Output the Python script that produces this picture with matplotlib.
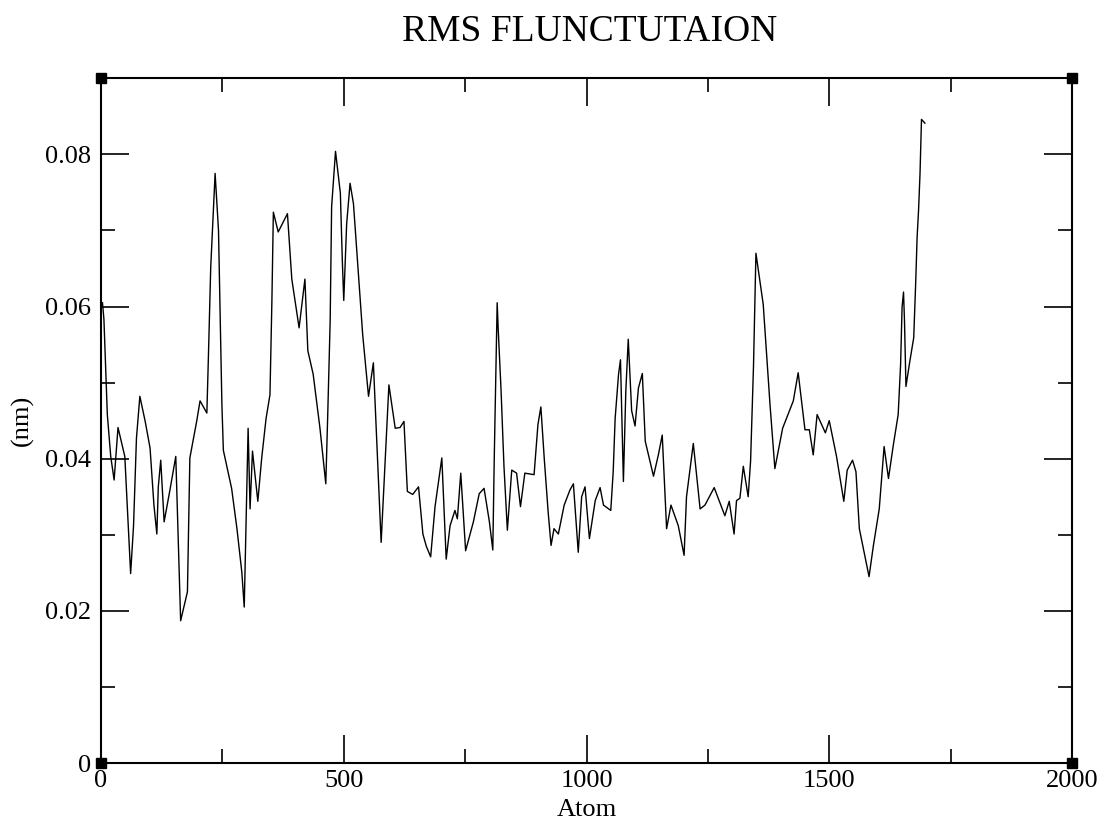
import matplotlib
matplotlib.use('Agg')
import matplotlib.pyplot as plt
from matplotlib.ticker import MultipleLocator, FuncFormatter

# values
atom = [3, 6, 13, 20, 27, 35, 49, 61, 67, 73, 80, 91, 101, 109, 115, 118, 123, 130,
        142, 154, 159, 164, 178, 183, 197, 204, 218, 221, 226, 235, 242, 245, 249, 252,
        269, 280, 290, 295, 299, 303, 307, 312, 323, 331, 340, 348, 352, 355, 365, 384,
        393, 408, 420, 426, 437, 451, 463, 467, 472, 475, 483, 493, 497, 500, 506, 513,
        520, 539, 551, 561, 577, 593, 606, 616, 624, 631, 642, 654, 663, 670, 679, 688,
        702, 711, 719, 729, 734, 741, 751, 767, 779, 789, 800, 807, 810, 816, 818, 824,
        830, 837, 846, 856, 864, 873, 892, 900, 906, 913, 921, 927, 933, 942, 954, 966,
        973, 983, 990, 997, 1006, 1018, 1028, 1035, 1050, 1055, 1059, 1066, 1070, 1076,
        1081, 1086, 1093, 1100, 1107, 1115, 1121, 1138, 1148, 1156, 1165, 1174, 1189,
        1201, 1206, 1220, 1234, 1244, 1263, 1285, 1294, 1304, 1309, 1316, 1323, 1333,
        1338, 1344, 1349, 1364, 1378, 1388, 1404, 1426, 1436, 1450, 1459, 1467, 1475,
        1492, 1500, 1515, 1530, 1537, 1548, 1555, 1562, 1573, 1582, 1591, 1603, 1613,
        1622, 1632, 1642, 1647, 1650, 1653, 1655, 1658, 1666, 1674, 1678, 1681, 1684,
        1687, 1690, 1697]
rmsf = [0.0605, 0.0583, 0.0458, 0.0403, 0.0372, 0.0441, 0.0403, 0.0249, 0.0312, 0.0427,
        0.0482, 0.0449, 0.0414, 0.0339, 0.0301, 0.0363, 0.0398, 0.0317, 0.0359, 0.0403,
        0.0295, 0.0187, 0.0225, 0.0401, 0.0449, 0.0476, 0.0460, 0.0529, 0.0652, 0.0775,
        0.0700, 0.0599, 0.0471, 0.0411, 0.0361, 0.0308, 0.0251, 0.0205, 0.0324, 0.0440,
        0.0334, 0.0410, 0.0344, 0.0401, 0.0453, 0.0484, 0.0608, 0.0724, 0.0698, 0.0722,
        0.0636, 0.0572, 0.0636, 0.0542, 0.0511, 0.0440, 0.0367, 0.0458, 0.0581, 0.0731,
        0.0804, 0.0749, 0.0661, 0.0608, 0.0709, 0.0762, 0.0735, 0.0563, 0.0482, 0.0526,
        0.0290, 0.0497, 0.0440, 0.0441, 0.0449, 0.0357, 0.0353, 0.0363, 0.0301, 0.0285,
        0.0271, 0.0337, 0.0401, 0.0268, 0.0312, 0.0332, 0.0321, 0.0381, 0.0279, 0.0317,
        0.0354, 0.0361, 0.0317, 0.0280, 0.0401, 0.0605, 0.0572, 0.0490, 0.0390, 0.0306,
        0.0385, 0.0381, 0.0337, 0.0381, 0.0379, 0.0445, 0.0468, 0.0400, 0.0330, 0.0286,
        0.0308, 0.0301, 0.0339, 0.0359, 0.0367, 0.0277, 0.0350, 0.0363, 0.0295, 0.0345,
        0.0362, 0.0339, 0.0332, 0.0383, 0.0453, 0.0511, 0.0530, 0.0370, 0.0489, 0.0557,
        0.0463, 0.0443, 0.0493, 0.0512, 0.0423, 0.0377, 0.0405, 0.0431, 0.0308, 0.0339,
        0.0312, 0.0273, 0.0350, 0.0420, 0.0334, 0.0339, 0.0362, 0.0325, 0.0344, 0.0301,
        0.0345, 0.0348, 0.0390, 0.0350, 0.0397, 0.0522, 0.0670, 0.0603, 0.0471, 0.0387,
        0.0440, 0.0476, 0.0513, 0.0438, 0.0438, 0.0405, 0.0458, 0.0434, 0.0450, 0.0403,
        0.0344, 0.0385, 0.0398, 0.0383, 0.0308, 0.0273, 0.0245, 0.0286, 0.0334, 0.0416,
        0.0374, 0.0418, 0.0458, 0.0524, 0.0599, 0.0619, 0.0581, 0.0495, 0.0528, 0.0559,
        0.0630, 0.0691, 0.0727, 0.0775, 0.0846, 0.0841]

plt.rcParams['font.family'] = ['Liberation Serif', 'DejaVu Serif']

fig = plt.figure(figsize=(11.04, 8.24), dpi=100)
ax = fig.add_axes([0.0915, 0.074, 0.8795, 0.831])

ax.plot(atom, rmsf, color='black', lw=1.0)

ax.set_xlim(0, 2000)
ax.set_ylim(0, 0.09)
ax.xaxis.set_major_locator(MultipleLocator(500))
ax.xaxis.set_minor_locator(MultipleLocator(250))
ax.yaxis.set_major_locator(MultipleLocator(0.02))
ax.yaxis.set_minor_locator(MultipleLocator(0.01))
ax.yaxis.set_major_formatter(FuncFormatter(lambda v, p: '0' if abs(v) < 1e-9 else '%g' % v))

ax.tick_params(which='both', direction='in', top=True, right=True, width=1.2, labelsize=19)
ax.tick_params(which='major', length=20)
ax.tick_params(which='minor', length=10)
ax.tick_params(axis='x', which='major', pad=5)
ax.tick_params(axis='y', which='major', pad=7)
for s in ax.spines.values():
    s.set_linewidth(1.5)

ax.set_xlabel('Atom', fontsize=19, labelpad=5)
ax.set_ylabel('(nm)', fontsize=19, labelpad=8)
fig.text(0.534, 0.962, 'RMS FLUNCTUTAION', ha='center', va='center', fontsize=27)

# little corner handles like in the screenshot
ax.plot([0, 1, 0, 1], [0, 0, 1, 1], 's', color='black', ms=7,
        transform=ax.transAxes, clip_on=False)

plt.savefig('out.png', dpi=100)
